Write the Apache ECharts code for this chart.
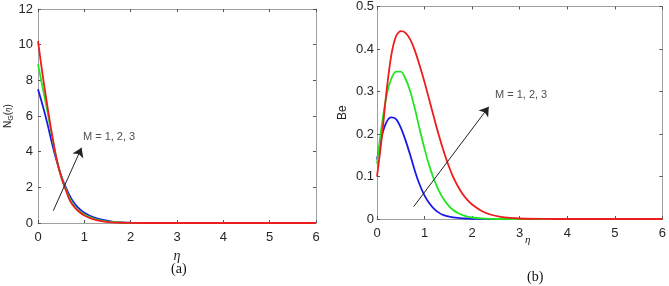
<!DOCTYPE html>
<html><head><meta charset="utf-8">
<script src="https://cdn.jsdelivr.net/npm/echarts@6/dist/echarts.min.js"></script>
<style>html,body{margin:0;padding:0;background:#fff}#c{width:669px;height:286px}</style>
</head><body><div id="c"></div>
<script>
// Panel (a): N_G(eta)
const etaA = [0,0.1,0.2,0.3,0.4,0.5,0.6,0.7,0.8,0.9,1.0,1.2,1.4,1.6,1.8,2.0,2.5,3,4,5,6];
const ngM1 = [7.5,6.6,5.6,4.5,3.5,2.65,2.0,1.45,1.05,0.78,0.58,0.32,0.17,0.08,0.035,0.015,0.002,0,0,0,0];
const ngM2 = [8.9,7.6,6.3,4.9,3.6,2.6,1.9,1.3,0.9,0.65,0.48,0.25,0.12,0.06,0.025,0.01,0.001,0,0,0,0];
const ngM3 = [10.2,8.3,6.6,5.0,3.6,2.6,1.85,1.2,0.85,0.6,0.42,0.2,0.09,0.04,0.015,0.005,0,0,0,0,0];
// Panel (b): Be
const etaB = [0,0.1,0.2,0.3,0.4,0.5,0.6,0.7,0.8,0.9,1.0,1.1,1.2,1.3,1.4,1.5,1.6,1.7,1.8,1.9,2.0,2.2,2.4,2.6,2.8,3.0,3.5,4,5,6];
const beM1 = [0.14,0.195,0.228,0.239,0.235,0.215,0.185,0.15,0.112,0.08,0.055,0.037,0.024,0.015,0.009,0.006,0.004,0.0025,0.0015,0.001,0.0005,0.0002,0,0,0,0,0,0,0,0];
const beM2 = [0.13,0.22,0.29,0.33,0.347,0.347,0.33,0.30,0.258,0.21,0.165,0.125,0.093,0.067,0.047,0.032,0.021,0.014,0.009,0.0055,0.0035,0.0013,0.0004,0,0,0,0,0,0,0];
const beM3 = [0.10,0.19,0.30,0.385,0.43,0.442,0.438,0.422,0.395,0.36,0.322,0.28,0.238,0.197,0.16,0.127,0.099,0.077,0.059,0.045,0.034,0.019,0.01,0.005,0.0025,0.0012,0.0002,0,0,0];
const ticksA = [0,2,4,6,8,10,12];
const ticksB = [0,0.1,0.2,0.3,0.4,0.5];
const label = 'M = 1, 2, 3';
const arrowA = [[0.33,0.69],[0.94,4.22]];
const labelA = [0.97,4.82];
const arrowB = [[0.77,0.029],[2.35,0.264]];
const labelB = [2.48,0.292];

const colors = ['#1a1ae6','#22e622','#ee1c1c'];
const frame = '#a0a0a0';
const tickFont = {fontFamily:'Liberation Sans, Arial', fontSize:13, color:'#262626'};

function pairs(xs, ys){ return xs.map((x,i)=>[x, ys[i]]); }

function mainX(gi, nameCfg){
  return Object.assign({type:'value', gridIndex:gi, min:0, max:6, interval:1, position:'bottom',
    axisLine:{lineStyle:{color:frame,width:1}}, axisTick:{inside:true,length:3,lineStyle:{color:'#555'}},
    splitLine:{show:false}, axisLabel:Object.assign({margin:8}, tickFont)}, nameCfg);
}
function mirrorX(gi){
  return {type:'value', gridIndex:gi, min:0, max:6, interval:1, position:'top',
    axisLine:{onZero:false,lineStyle:{color:frame,width:1}}, axisTick:{inside:true,length:3,lineStyle:{color:'#555'}},
    axisLabel:{show:false}, splitLine:{show:false}};
}
function mainY(gi, max, interval, nameCfg, margin){
  return Object.assign({type:'value', gridIndex:gi, min:0, max:max, interval:interval, position:'left',
    axisLine:{show:true,onZero:false,lineStyle:{color:frame,width:1}}, axisTick:{show:true,inside:true,length:3,lineStyle:{color:'#555'}},
    splitLine:{show:false}, axisLabel:Object.assign({margin:margin}, tickFont)}, nameCfg);
}
function mirrorY(gi, max, interval){
  return {type:'value', gridIndex:gi, min:0, max:max, interval:interval, position:'right',
    axisLine:{show:true,onZero:false,lineStyle:{color:frame,width:1}}, axisTick:{show:true,inside:true,length:3,lineStyle:{color:'#555'}},
    axisLabel:{show:false}, splitLine:{show:false}};
}
function lineSeries(xi, yi, xs, ys, c){
  return {type:'line', xAxisIndex:xi, yAxisIndex:yi, data:pairs(xs,ys), smooth:0.3, symbol:'none',
    lineStyle:{color:c,width:1.8}, silent:true, z:3};
}
function arrowSeries(xi, yi, arr, lab){
  return {type:'scatter', xAxisIndex:xi, yAxisIndex:yi, symbolSize:0, data:[{value:lab}], silent:true,
    label:{show:true, position:'right', distance:0, formatter:label, fontFamily:'Liberation Sans, Arial', fontSize:11, color:'#222'},
    markLine:{silent:true, symbol:['none','arrow'], symbolSize:9, animation:false,
      lineStyle:{color:'#222', width:1, type:'solid'}, label:{show:false},
      data:[[{coord:arr[0]},{coord:arr[1]}]]}, z:5};
}

const option = {
  animation:false,
  backgroundColor:'#fff',
  title:[
    {text:'(a)', left:166, top:257, textStyle:{fontFamily:'Liberation Serif, Times New Roman', fontSize:14, fontWeight:'normal', color:'#111'}},
    {text:'(b)', left:522, top:265, textStyle:{fontFamily:'Liberation Serif, Times New Roman', fontSize:14, fontWeight:'normal', color:'#111'}}
  ],
  grid:[
    {left:38, top:9, width:278, height:214},
    {left:377, top:5, width:288, height:214}
  ],
  xAxis:[
    mainX(0, {name:'η', nameLocation:'middle', nameGap:24, nameTextStyle:{fontFamily:'Liberation Serif, Times New Roman', fontStyle:'italic', fontSize:14, color:'#222'}}),
    mirrorX(0),
    mainX(1, {name:'η', nameLocation:'middle', nameGap:16, nameMoveOverlap:false, nameTextStyle:{fontFamily:'Liberation Serif, Times New Roman', fontStyle:'italic', fontSize:11, color:'#222', padding:[0,0,0,16]}}),
    mirrorX(1)
  ],
  yAxis:[
    mainY(0, 12, 2, {name:'{n|N}{s|G}{n|(}{e|η}{n|)}', nameLocation:'middle', nameGap:18, nameRotate:90,
      nameTextStyle:{rich:{
        n:{fontFamily:'Liberation Sans, Arial', fontSize:10, color:'#222'},
        s:{fontFamily:'Liberation Sans, Arial', fontSize:7, color:'#222', padding:[6,0,0,0]},
        e:{fontFamily:'Liberation Serif', fontStyle:'italic', fontSize:9, color:'#222'}}}}, 5),
    mirrorY(0, 12, 2),
    mainY(1, 0.5, 0.1, {name:'Be', nameLocation:'middle', nameGap:28, nameRotate:90,
      nameTextStyle:{fontFamily:'Liberation Sans, Arial', fontSize:12, color:'#222'}}, 3),
    mirrorY(1, 0.5, 0.1)
  ],
  series:[
    lineSeries(0,0,etaA,ngM1,colors[0]),
    lineSeries(0,0,etaA,ngM2,colors[1]),
    lineSeries(0,0,etaA,ngM3,colors[2]),
    arrowSeries(0,0,arrowA,labelA),
    lineSeries(2,2,etaB,beM1,colors[0]),
    lineSeries(2,2,etaB,beM2,colors[1]),
    lineSeries(2,2,etaB,beM3,colors[2]),
    arrowSeries(2,2,arrowB,labelB)
  ]
};
const chart = echarts.init(document.getElementById('c'), null, {renderer:'canvas'});
chart.setOption(option);
</script></body></html>
